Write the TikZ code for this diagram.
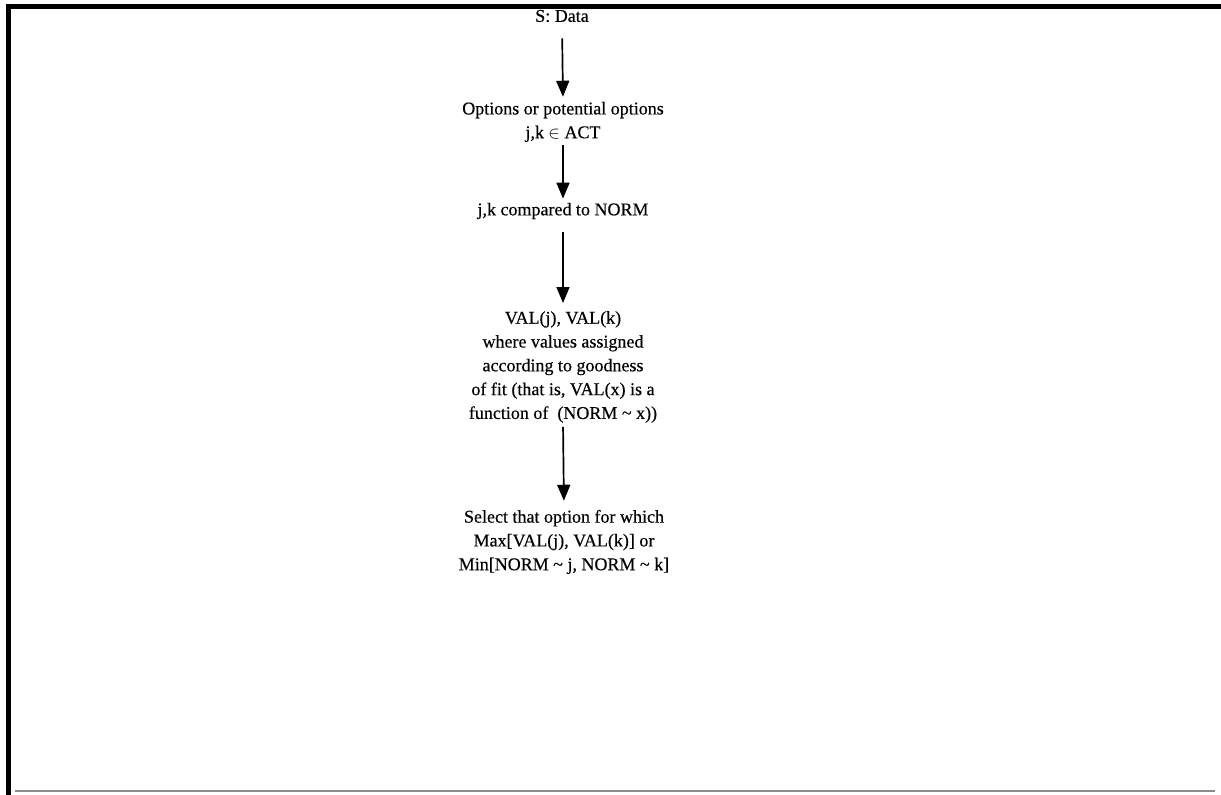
\documentclass[tikz,border=0pt]{standalone}
\usepackage{fontspec}
\setmainfont{Liberation Serif}
\usetikzlibrary{arrows.meta}
\tikzset{
  txt/.style={align=center, inner sep=0pt,
    font=\fontsize{18}{23.8}\selectfont\addfontfeature{FakeBold=0.3}},
  arr/.style={line width=1.7pt, -{Triangle[width=13pt,length=16pt]}},
  frame/.style={line width=5pt, black},
  baseline rule/.style={line width=1.5pt, black!45}
}
\begin{document}
\begin{tikzpicture}[x=1pt,y=-1pt]
\useasboundingbox (0,0) rectangle (1221,795);
\draw[frame] (8,795) -- (8,6) -- (1221,6);
\draw[baseline rule] (15,791) -- (1215,791);

\node[txt] (data) at (562,16) {S: Data};
\node[txt] (opts) at (563,122) {Options or potential options\\ j,k $\in$ ACT};
\node[txt] (cmp) at (563,211) {j,k compared to NORM};
\node[txt] (val) at (563,367) {VAL(j), VAL(k)\\ where values assigned\\ according to goodness\\ of fit (that is, VAL(x) is a\\ function of\ \ (NORM \char`\~{} x))};
\node[txt] (sel) at (564,542) {Select that option for which\\ Max[VAL(j), VAL(k)] or\\ Min[NORM \char`\~{} j, NORM \char`\~{} k]};

\draw[arr, shorten <=16pt, shorten >=5pt] (data.south) -- (opts.north);
\draw[arr, shorten <=3pt, shorten >=4pt] (opts.south) -- (cmp.north);
\draw[arr, shorten <=13pt, shorten >=8pt] (cmp.south) -- (val.north);
\draw[arr, shorten <=4pt, shorten >=9pt] (val.south) -- (sel.north);
\end{tikzpicture}
\end{document}
